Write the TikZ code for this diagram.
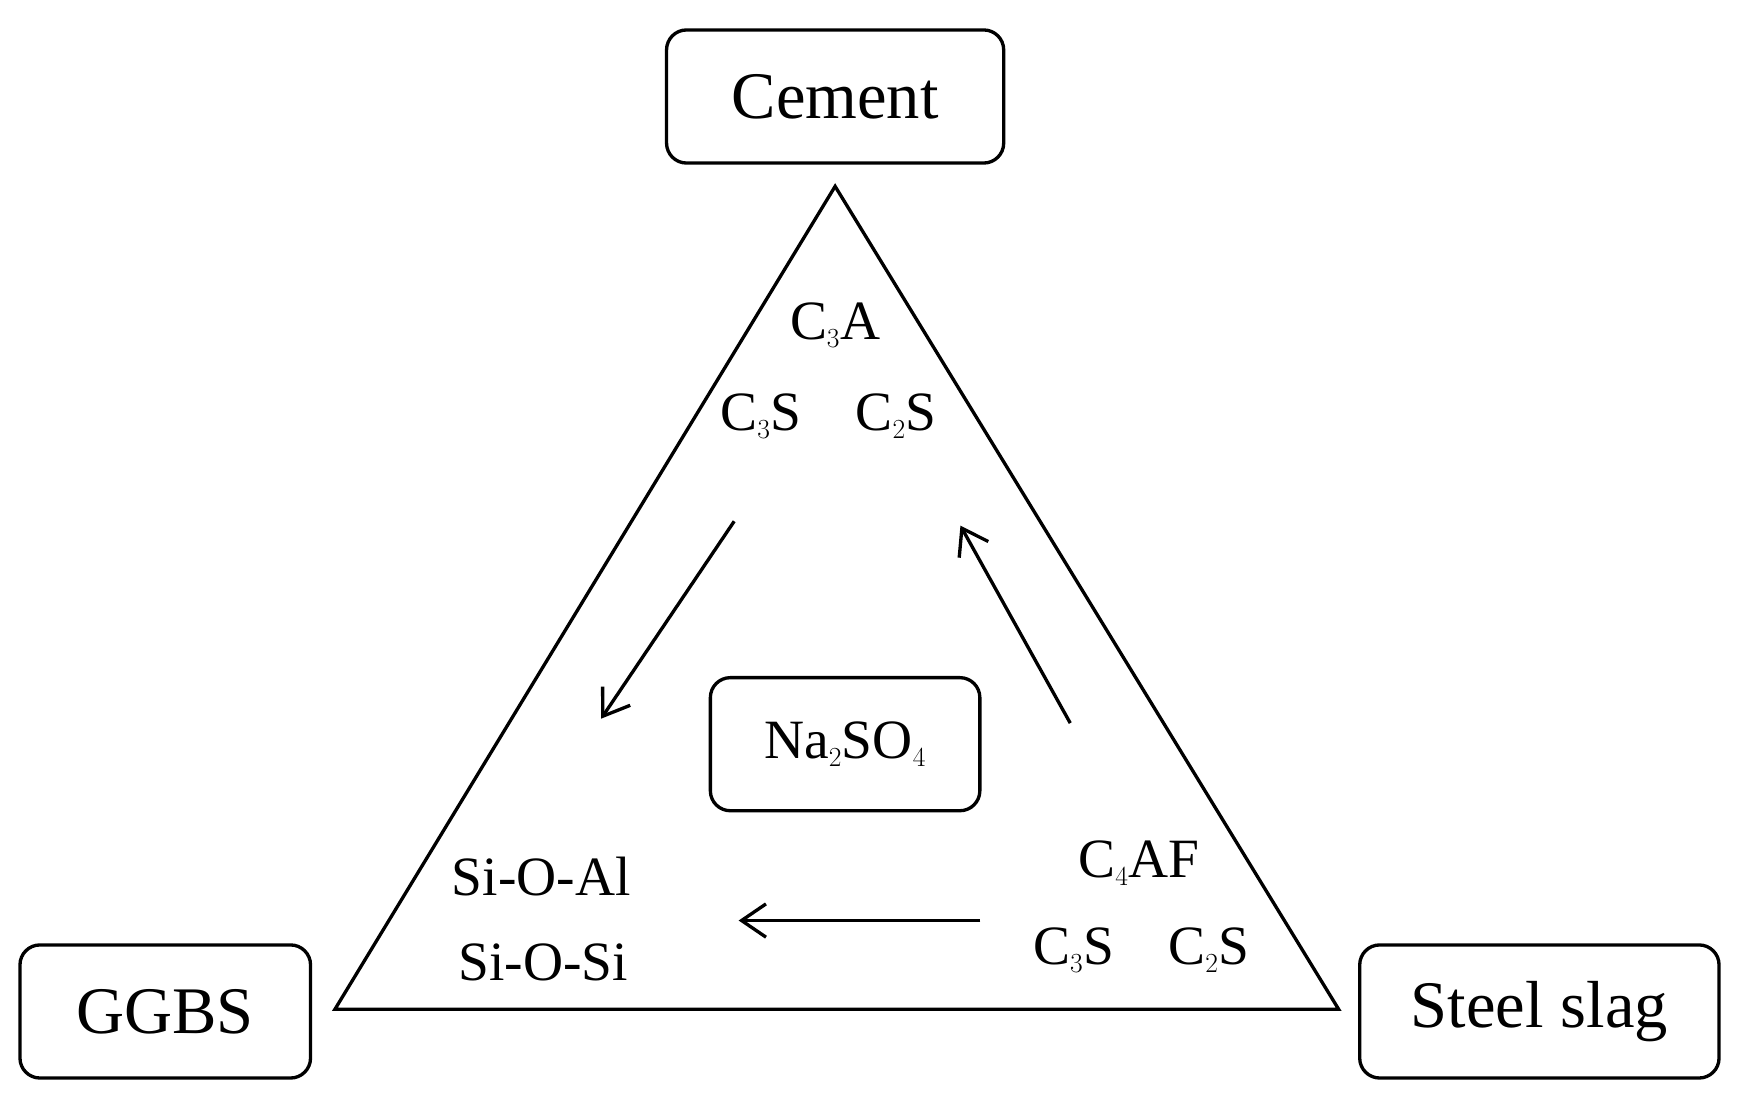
\documentclass[tikz,border=0pt]{standalone}
\usepackage{fontspec}
\setmainfont{Liberation Serif}
\usetikzlibrary{arrows.meta}
\begin{document}
\begin{tikzpicture}[x=1pt,y=-1pt,
  box/.style={draw,line width=3pt,rounded corners=18pt,inner sep=0pt},
  big/.style={font=\fontsize{60}{60}\selectfont},
  txt/.style={font=\fontsize{50}{50}\selectfont,inner sep=0pt},
  arr/.style={line width=3pt,-{Straight Barb[length=22pt,width=30pt,line width=3pt]}}]
\useasboundingbox (0,0) rectangle (1568,997);
\node[box,minimum width=304pt,minimum height=120pt,big] (cem) at (753,87) {Cement};
\node[box,minimum width=262pt,minimum height=120pt,big] (gg) at (149,912) {GGBS};
\node[box,minimum width=324pt,minimum height=120pt,big] (ss) at (1388,912) {Steel slag};
\coordinate (ta) at (753,168);
\coordinate (tl) at (302,910);
\coordinate (tr) at (1207,910);
\draw[line width=3pt,line join=miter] (ta) -- (tl) -- (tr) -- cycle;
\node[box,minimum width=243pt,minimum height=120pt,txt] (na) at (762,671) {Na$_2$SO$_4$};
\node[txt] (c3a) at (753,293) {C$_3$A};
\node[txt] (c3s) at (686,375) {C$_3$S};
\node[txt] (c2s) at (808,375) {C$_2$S};
\node[txt] (soa) at (488,790) {Si-O-Al};
\node[txt] (sos) at (490,868) {Si-O-Si};
\node[txt] (c4af) at (1027,778) {C$_4$AF};
\node[txt] (c3sb) at (968,857) {C$_3$S};
\node[txt] (c2sb) at (1090,857) {C$_2$S};
\coordinate (a1s) at (662,470); \coordinate (a1e) at (542,648);
\coordinate (a2s) at (965,652); \coordinate (a2e) at (866,474);
\coordinate (a3s) at (884,830); \coordinate (a3e) at (666,830);
\draw[arr] (a1s) -- (a1e);
\draw[arr] (a2s) -- (a2e);
\draw[arr] (a3s) -- (a3e);
\end{tikzpicture}
\end{document}
